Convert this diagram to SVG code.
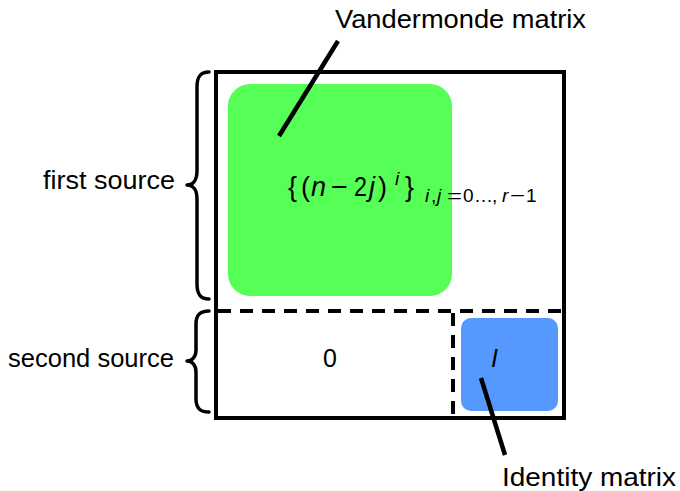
<svg xmlns="http://www.w3.org/2000/svg" width="680" height="491" viewBox="0 0 680 491">
<style>
.lbl{font-family:"Liberation Sans",Arial,sans-serif;font-size:25px;fill:#000}
.m{font-family:"Liberation Sans",Arial,sans-serif;font-size:27px;fill:#000}
.s{font-family:"Liberation Sans",Arial,sans-serif;font-size:19px;fill:#000}
.it{font-style:italic}
.brace{fill:none;stroke:#000;stroke-width:3.5;stroke-linecap:round;stroke-linejoin:round}
.dash{fill:none;stroke:#000;stroke-width:4;stroke-dasharray:13 9}
.ptr{stroke:#000;stroke-width:4.5;fill:none}
</style>
<rect width="680" height="491" fill="#fff"/>
<g id="vandermonde">
<rect x="228" y="84" width="224" height="212" rx="22" fill="#55ff55"/>
<text class="m"><tspan x="288" y="196">{</tspan><tspan x="301" y="196">(</tspan><tspan class="it" x="311" y="196">n</tspan><tspan x="331" y="196" textLength="17" lengthAdjust="spacingAndGlyphs">−</tspan><tspan x="354" y="196" textLength="13" lengthAdjust="spacingAndGlyphs">2</tspan><tspan class="it" x="369" y="196">j</tspan><tspan x="378" y="196">)</tspan><tspan class="s it" x="395" y="185">i</tspan><tspan x="405" y="196">}</tspan></text>
<text class="s"><tspan class="it" x="425" y="202">i</tspan><tspan x="431" y="202">,</tspan><tspan class="it" x="437" y="202">j</tspan><tspan x="447" y="202" textLength="15" lengthAdjust="spacingAndGlyphs">=</tspan><tspan x="463" y="202">0</tspan><tspan x="474" y="202">…</tspan><tspan x="492" y="202">,</tspan><tspan class="it" x="502" y="202">r</tspan><tspan x="510" y="202" textLength="15" lengthAdjust="spacingAndGlyphs">−</tspan><tspan x="526" y="202">1</tspan></text>
</g>
<g id="identity">
<rect x="461" y="318" width="97" height="93" rx="10" fill="#5599ff"/>
<text class="lbl it" x="491" y="367">I</text>
</g>
<g id="zero">
<text class="lbl" x="330" y="367" text-anchor="middle">0</text>
</g>
<g id="matrix">
<rect x="216" y="72" width="348" height="346" fill="none" stroke="#000" stroke-width="4"/>
<line class="dash" x1="218" y1="311" x2="562" y2="311"/>
<line class="dash" x1="453" y1="313" x2="453" y2="418"/>
</g>
<g id="first-source">
<path class="brace" d="M209 72 C200 72 197 77 197 87 L197 171 C197 180 193 185 187 185 C193 185 197 190 197 199 L197 284 C197 294 200 299 209 299"/>
<text class="lbl" x="43" y="189" textLength="132" lengthAdjust="spacingAndGlyphs">first source</text>
</g>
<g id="second-source">
<path class="brace" d="M209 311 C200 311 196 315 196 324 L196 350 C196 357 192 361 187 361 C192 361 196 365 196 372 L196 399 C196 408 200 412 209 412"/>
<text class="lbl" x="8" y="367" textLength="166" lengthAdjust="spacingAndGlyphs">second source</text>
</g>
<g id="labels">
<text class="lbl" x="335" y="28" textLength="251" lengthAdjust="spacingAndGlyphs">Vandermonde matrix</text>
<text class="lbl" x="502" y="486" textLength="174" lengthAdjust="spacingAndGlyphs">Identity matrix</text>
</g>
<g id="connectors">
<line class="ptr" x1="338" y1="41" x2="279" y2="136"/>
<line class="ptr" x1="481" y1="378" x2="505" y2="455"/>
</g>
</svg>
